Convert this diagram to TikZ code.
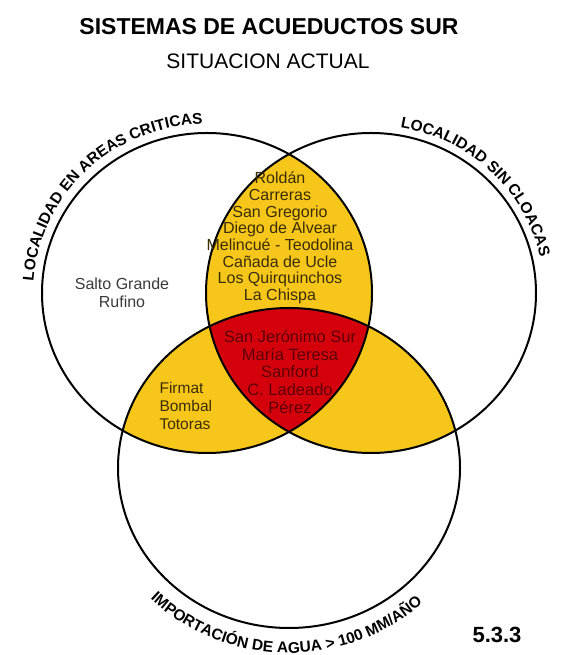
\documentclass[tikz,border=0pt]{standalone}
\usepackage{fontspec}
\setmainfont{Liberation Sans}
\usetikzlibrary{decorations.text}
\definecolor{vennyellow}{HTML}{F7C61A}
\definecolor{vennred}{HTML}{D4000C}
\definecolor{yellowtext}{HTML}{3A2E00}
\definecolor{redtext}{HTML}{5C0008}
\definecolor{plaintext}{HTML}{3A3A3A}
\newcommand\arcfont{\bfseries\fontsize{15.5}{18}\selectfont}

\begin{document}
\begin{tikzpicture}[x=1pt,y=1pt,
  upper/.style={x radius=165,y radius=160},
  lower/.style={x radius=171,y radius=160},
  towns/.style={align=center,font=\fontsize{16}{16.7}\selectfont},
  arclabel/.style={decorate,decoration={text along path,text align=center,text={|\arcfont|#1}}}]
\useasboundingbox (0,0) rectangle (562,655);
\coordinate (cl) at (207,362);
\coordinate (cr) at (371,362);
\coordinate (cb) at (289,187);

\begin{scope}
  \clip[upper] (cl) ellipse [];
  \fill[vennyellow,upper] (cr) ellipse [];
  \fill[vennyellow,lower] (cb) ellipse [];
\end{scope}
\begin{scope}
  \clip[upper] (cr) ellipse [];
  \fill[vennyellow,lower] (cb) ellipse [];
\end{scope}
\begin{scope}
  \clip[upper] (cl) ellipse [];
  \clip[upper] (cr) ellipse [];
  \fill[vennred,lower] (cb) ellipse [];
\end{scope}
\draw[line width=2pt,upper] (cl) ellipse [];
\draw[line width=2pt,upper] (cr) ellipse [];
\draw[line width=2pt,lower] (cb) ellipse [];

\path[arclabel=LOCALIDAD EN AREAS CRITICAS] ([shift={(200:174 and 169)}]cl)
  arc [start angle=200,end angle=68,x radius=174,y radius=169];
\path[arclabel=LOCALIDAD SIN CLOACAS] ([shift={(100:173 and 168)}]cr)
  arc [start angle=100,end angle=-8,x radius=173,y radius=168];
\path[arclabel=IMPORTACIÓN DE AGUA > 100 MM/AÑO] ([shift={(200:196 and 185)}]cb)
  arc [start angle=200,end angle=338,x radius=196,y radius=185];

\node[font=\bfseries\fontsize{23}{24}\selectfont] (title) at (269,628) {SISTEMAS DE ACUEDUCTOS SUR};
\node[font=\fontsize{21}{22}\selectfont] (sub) at (268,594) {SITUACION ACTUAL};

\node[towns,text=yellowtext] (top) at (280,417) {Roldán\\Carreras\\San Gregorio\\Diego de Alvear\\Melincué - Teodolina\\Cañada de Ucle\\Los Quirquinchos\\La Chispa};
\node[towns,text=redtext,font=\fontsize{16.5}{17.6}\selectfont] (core) at (290,283) {San Jerónimo Sur\\María Teresa\\Sanford\\C. Ladeado\\Pérez};
\node[towns,text=plaintext,font=\fontsize{16}{18}\selectfont] (salto) at (122,362) {Salto Grande\\Rufino};
\node[towns,align=left,anchor=west,text=yellowtext,font=\fontsize{15.5}{18}\selectfont] (firmat) at (156,249) {Firmat\\Bombal\\Totoras};

\node[font=\bfseries\fontsize{22}{24}\selectfont] (num) at (497,20) {5.3.3};
\end{tikzpicture}
\end{document}
